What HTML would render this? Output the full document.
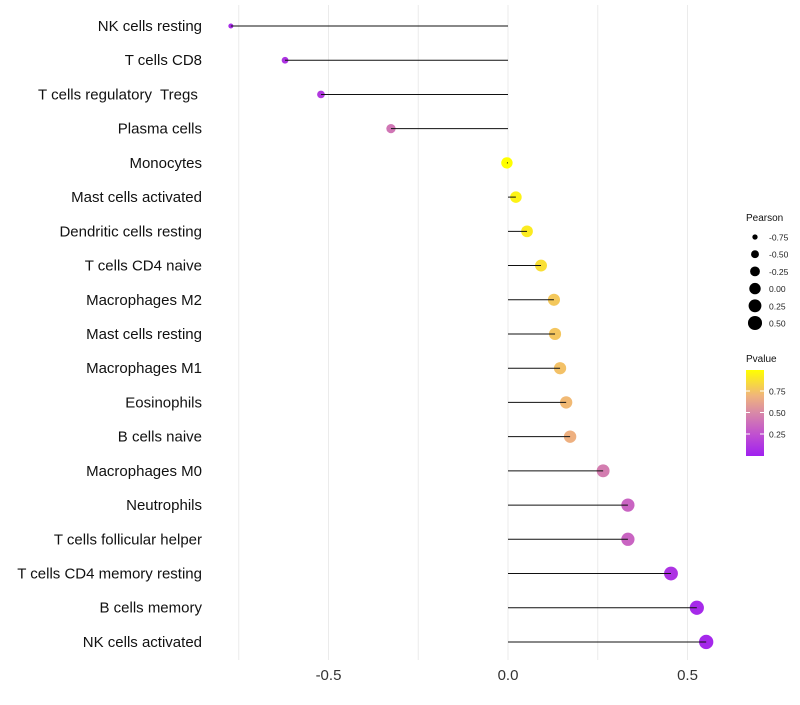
<!DOCTYPE html>
<html><head><meta charset="utf-8"><style>
body{margin:0;background:#fff;font-family:"Liberation Sans",sans-serif}
</style></head><body>
<svg id="chart" width="800" height="700" xmlns="http://www.w3.org/2000/svg" font-family="Liberation Sans, sans-serif">
<defs><linearGradient id="pg" x1="0" y1="1" x2="0" y2="0">
<stop offset="0" stop-color="#a020f0"/><stop offset="0.25" stop-color="#c050d0"/><stop offset="0.5" stop-color="#d888a8"/><stop offset="0.7" stop-color="#f0b47c"/><stop offset="1" stop-color="#ffff00"/></linearGradient></defs>
<g id="grid"></g><g id="marks"></g><g id="labels"></g>
<g id="legend"></g>
</svg>
<script>
const categories=["NK cells resting","T cells CD8","T cells regulatory  Tregs ","Plasma cells","Monocytes","Mast cells activated","Dendritic cells resting","T cells CD4 naive","Macrophages M2","Mast cells resting","Macrophages M1","Eosinophils","B cells naive","Macrophages M0","Neutrophils","T cells follicular helper","T cells CD4 memory resting","B cells memory","NK cells activated"];
const pearson=[-0.772,-0.621,-0.521,-0.326,-0.003,0.022,0.053,0.092,0.128,0.131,0.145,0.162,0.173,0.265,0.334,0.334,0.454,0.526,0.552];
const pvalue=[0.06,0.1,0.13,0.42,1.0,0.95,0.92,0.87,0.78,0.77,0.75,0.72,0.68,0.45,0.34,0.34,0.1,0.05,0.04];
const xTicks=[-0.5,0,0.5];
const xMinor=[-0.75,-0.25,0.25];
const legendSizes=[-0.75,-0.5,-0.25,0,0.25,0.5];
const legendP=[0.25,0.5,0.75];
const NS="http://www.w3.org/2000/svg";
const X=v=>508+v*359;
const Y=i=>26+i*34.22;
const R=v=>Math.sqrt(Math.max(2.5,32.5+34*v));
function col(p){const st=[[0,[160,32,240]],[0.25,[192,80,208]],[0.5,[216,136,168]],[0.7,[240,180,124]],[1,[255,255,0]]];
 p=Math.max(0,Math.min(1,p));for(let k=1;k<st.length;k++){if(p<=st[k][0]){const a=st[k-1],b=st[k],t=(p-a[0])/(b[0]-a[0]);return "rgb("+a[1].map((c,j)=>Math.round(c+(b[1][j]-c)*t)).join(",")+")";}}return "rgb(255,255,0)";}
function el(t,a,parent){const e=document.createElementNS(NS,t);for(const k in a)e.setAttribute(k,a[k]);parent.appendChild(e);return e;}
const grid=document.getElementById('grid'),marks=document.getElementById('marks'),labels=document.getElementById('labels'),leg=document.getElementById('legend');
xMinor.concat(xTicks).forEach(v=>{const l=el('line',{x1:X(v),x2:X(v),y1:5,y2:660,stroke:'#ebebeb','stroke-width':1},grid);

});
xTicks.forEach(v=>{const t=el('text',{x:X(v),y:680,'text-anchor':'middle','font-size':15,fill:'#333'},labels);t.textContent=v===0?'0.0':v.toFixed(1);

});
categories.forEach((c,i)=>{const y=Y(i);
 const dot=el('circle',{cx:X(pearson[i]),cy:y,r:R(pearson[i]),fill:col(pvalue[i])},marks);
 
 
 const ln=el('line',{x1:X(0),x2:X(pearson[i]),y1:y,y2:y,stroke:'#111','stroke-width':1},marks);
 
 
 const t=el('text',{x:202,y:y+5,'text-anchor':'end','font-size':15,fill:'#111'},labels);t.textContent=c;t.style.whiteSpace='pre';
 
 });
let tt=el('text',{x:746,y:221,'font-size':10,fill:'#111'},leg);tt.textContent='Pearson';


legendSizes.forEach((v,i)=>{const y=237+i*17.2;
 const c=el('circle',{cx:755,cy:y,r:R(v),fill:'#000'},leg);
 
 
 const t=el('text',{x:769,y:y+3.5,'font-size':8.5,fill:'#222'},leg);t.textContent=v.toFixed(2);
 
 });
tt=el('text',{x:746,y:362,'font-size':10,fill:'#111'},leg);tt.textContent='Pvalue';


const bar=el('rect',{x:746,y:370,width:18,height:86,fill:'url(#pg)'},leg);


legendP.forEach(p=>{const yy=434+(0.25-p)*86;
 el('line',{x1:746,x2:750,y1:yy,y2:yy,stroke:'#fff'},leg);el('line',{x1:760,x2:764,y1:yy,y2:yy,stroke:'#fff'},leg);
 const t=el('text',{x:769,y:yy+3.5,'font-size':8.5,fill:'#222'},leg);t.textContent=p.toFixed(2);
 
 });
</script>
</body></html>
